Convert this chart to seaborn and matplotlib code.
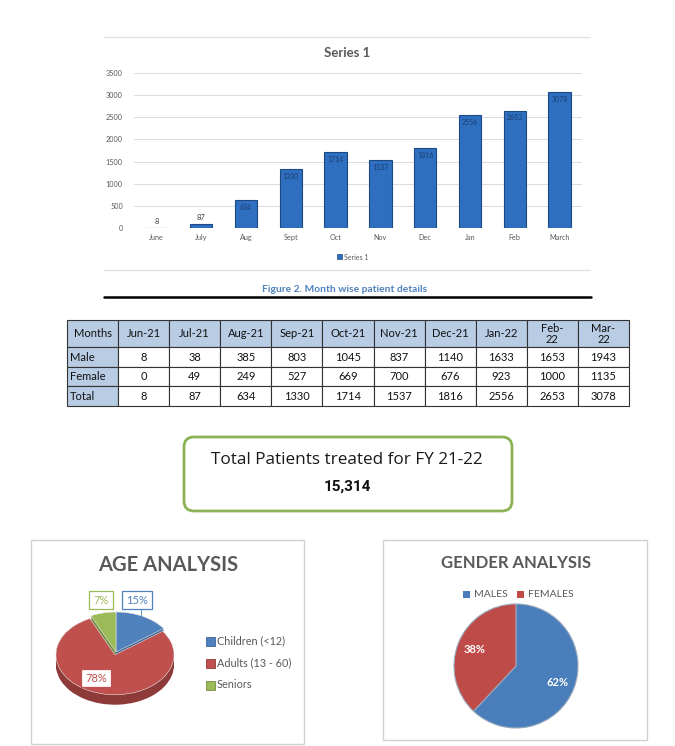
import numpy as np
import pandas as pd
import matplotlib.pyplot as plt
import seaborn as sns
from matplotlib.patches import FancyBboxPatch, Rectangle

# ---- data ----
months = ['June', 'July', 'Aug', 'Sept', 'Oct', 'Nov', 'Dec', 'Jan', 'Feb', 'March']
month_cols = ['Jun-21', 'Jul-21', 'Aug-21', 'Sep-21', 'Oct-21', 'Nov-21',
              'Dec-21', 'Jan-22', 'Feb-\n22', 'Mar-\n22']
male = [8, 38, 385, 803, 1045, 837, 1140, 1633, 1653, 1943]
female = [0, 49, 249, 527, 669, 700, 676, 923, 1000, 1135]
total = [8, 87, 634, 1330, 1714, 1537, 1816, 2556, 2653, 3078]
fy_total = '15,314'

age_groups = ['Children (<12)', 'Adults (13 - 60)', 'Seniors']
age_pct = [15, 78, 7]
gender_groups = ['MALES', 'FEMALES']
gender_pct = [62, 38]

sns.set_theme(style='white')
plt.rcParams['font.family'] = ['Lato', 'DejaVu Sans']

W, H = 675, 746
fig = plt.figure(figsize=(W / 100, H / 100), dpi=100)


def box(x0, y0, x1, y1):
    # pixel box with top-left origin -> figure rect
    return [x0 / W, 1 - y1 / H, (x1 - x0) / W, (y1 - y0) / H]


# overlay axes in pixel coords for frames and loose text (kept on top)
deco = fig.add_axes([0, 0, 1, 1])
deco.set_xlim(0, W)
deco.set_ylim(H, 0)
deco.axis('off')
deco.set_zorder(10)

grey = '#595959'

'''
Bar chart
'''
deco.plot([104, 590], [37, 37], color='#e3e3e3', lw=1)
deco.plot([104, 590], [270, 270], color='#e3e3e3', lw=1)
deco.text(347, 53, 'Series 1', ha='center', va='center', fontsize=9.5,
          weight='bold', color=grey)

ax = fig.add_axes(box(134, 73, 582, 228))
df = pd.DataFrame({'month': months, 'patients': total})
sns.barplot(data=df, x='month', y='patients', ax=ax, color='#2f6fc0',
            width=0.5, edgecolor='#1d4a85', linewidth=0.8, saturation=1)
ax.set_ylim(0, 3500)
ax.set_yticks(range(0, 3501, 500))
ax.yaxis.grid(True, color='#dcdcdc', lw=0.7)
ax.set_axisbelow(True)
sns.despine(ax=ax, left=True, bottom=True)
ax.tick_params(axis='y', labelsize=5.2, colors=grey, length=0, pad=8)
ax.tick_params(axis='x', labelsize=5.2, colors=grey, length=0, pad=4)
ax.set_xlabel('')
ax.set_ylabel('')
for i, v in enumerate(total):
    if v < 300:
        ax.text(i, v + 70, str(v), ha='center', va='bottom', fontsize=5.5, color='#404040')
    else:
        ax.text(i, v - 90, str(v), ha='center', va='top', fontsize=5, color='#1c3e6e')

deco.add_patch(Rectangle((337, 254), 5, 5, fc='#2f6fc0', ec='#1d4a85', lw=0.5))
deco.text(344, 257, 'Series 1', ha='left', va='center', fontsize=5, color=grey)

deco.text(345, 289, 'Figure 2. Month wise patient details', ha='center', va='center',
          fontsize=7.4, weight='bold', color='#4f81bd')
deco.plot([104, 591], [297, 297], color='black', lw=1.8)

'''
Table
'''
tax = fig.add_axes(box(67, 320, 629, 406))
tax.axis('off')
rows = [['Male'] + [str(v) for v in male],
        ['Female'] + [str(v) for v in female],
        ['Total'] + [str(v) for v in total]]
tbl = tax.table(cellText=rows, colLabels=['Months'] + month_cols,
                cellLoc='center', bbox=[0, 0, 1, 1])
tbl.auto_set_font_size(False)
tbl.set_fontsize(8)
for (r, c), cell in tbl.get_celld().items():
    cell.set_edgecolor('#333333')
    cell.set_linewidth(0.8)
    cell.set_height(1.4 if r == 0 else 1.0)
    cell.get_text().set_color('#111111')
    if r == 0 or c == 0:
        cell.set_facecolor('#b8cce4')
    if c == 0 and r > 0:
        cell.get_text().set_ha('left')
        cell.PAD = 0.06
    if r == 0:
        cell.get_text().set_linespacing(1.0)

'''
Total box
'''
deco.add_patch(FancyBboxPatch((184, 437), 328, 74, boxstyle='round,pad=0,rounding_size=10',
                              fc='white', ec='#8db255', lw=2))
deco.text(347, 460, 'Total Patients treated for FY 21-22', ha='center', va='center',
          fontsize=12.3, color='#1a1a1a', family=['Open Sans', 'DejaVu Sans'])
deco.text(347, 487, fy_total, ha='center', va='center', fontsize=11,
          weight='bold', color='#111111', family=['Roboto', 'DejaVu Sans'])

'''
Age analysis (fake 3d pie)
'''
deco.add_patch(Rectangle((31, 540), 273, 204, fc='none', ec='#d0d0d0', lw=1))
deco.text(168, 565, 'AGE ANALYSIS', ha='center', va='center', fontsize=14.5,
          weight='bold', color=grey)

age_colors = ['#4f81bd', '#c0504d', '#9bbb59']
age_side = ['#3a6190', '#8e3a38', '#748c42']
explode = [0, 0.07, 0]
pax = fig.add_axes(box(45.2, 604, 186.8, 712))
for off in np.linspace(-0.25, -0.02, 8):
    pax.pie(age_pct, colors=age_side, startangle=90, counterclock=False,
            explode=explode, center=(0, off), wedgeprops=dict(lw=0))
pax.pie(age_pct, colors=age_colors, startangle=90, counterclock=False,
        explode=explode, wedgeprops=dict(lw=0.4, edgecolor='#e8e8e8'))
pax.set_aspect('auto')
pax.set_xlim(-1.2, 1.2)
pax.set_ylim(-1.5, 1.2)
pax.axis('off')

label_pos = [(137, 600), (96, 678), (101, 600)]
deco.plot([141, 141], [609, 617], color='#4f81bd', lw=0.6)
for (x, y), p, c in zip(label_pos, age_pct, age_colors):
    deco.text(x, y, f'{p}%', ha='center', va='center', fontsize=8, color=c,
              bbox=dict(boxstyle='square,pad=0.35', fc='white', ec=c, lw=0.9))

for i, (g, c, s) in enumerate(zip(age_groups, age_colors, age_side)):
    y = 641 + i * 22
    deco.add_patch(Rectangle((206, y - 4.5), 9, 9, fc=c, ec=s, lw=0.6))
    deco.text(217, y, g, ha='left', va='center', fontsize=7.8, color=grey)

'''
Gender analysis
'''
deco.add_patch(Rectangle((383, 540), 264, 200, fc='none', ec='#d0d0d0', lw=1))
deco.text(516, 563, 'GENDER ANALYSIS', ha='center', va='center', fontsize=12,
          weight='bold', color=grey)

gender_colors = ['#4a7ebb', '#be4b48']
gax = fig.add_axes(box(516 - 77.5, 666 - 77.5, 516 + 77.5, 666 + 77.5))
gax.pie(gender_pct, colors=gender_colors, startangle=90, counterclock=False,
        autopct='%1.0f%%', pctdistance=0.72,
        textprops=dict(color='white', fontsize=8, weight='bold'),
        wedgeprops=dict(edgecolor='#9aa9bd', lw=0.8))
gax.set_xlim(-1.25, 1.25)
gax.set_ylim(-1.25, 1.25)

for (g, c, x) in zip(gender_groups, gender_colors, [463, 517]):
    deco.add_patch(Rectangle((x, 590.5), 7, 7, fc=c, ec='none'))
    deco.text(x + 11, 594.5, g, ha='left', va='center', fontsize=7.5, color=grey)

fig.savefig('out.png', dpi=100)
